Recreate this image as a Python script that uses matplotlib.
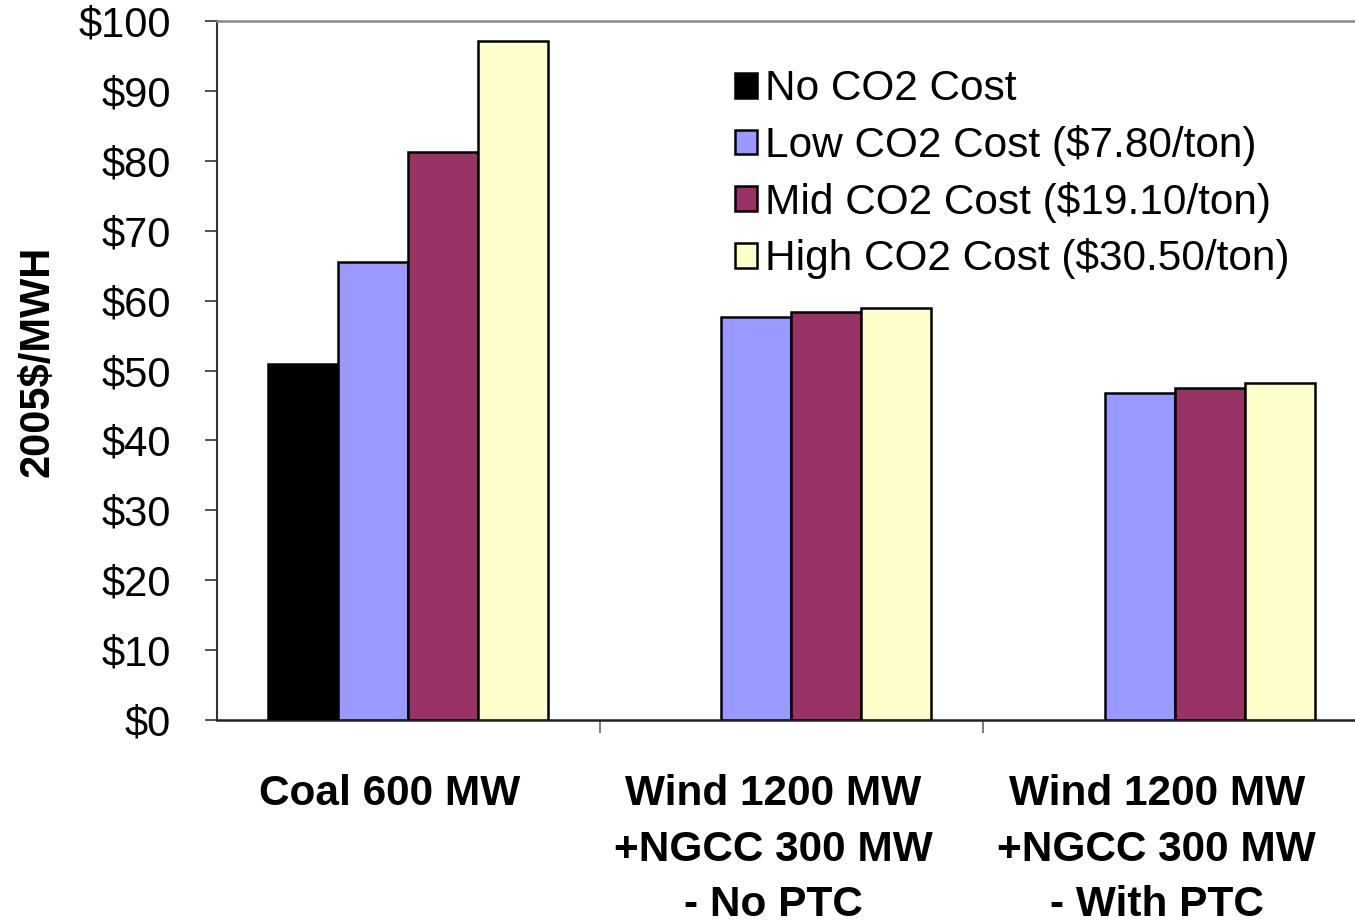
import numpy as np
import matplotlib
matplotlib.use('Agg')
import matplotlib.pyplot as plt

plt.rcParams['font.family'] = ['Liberation Sans', 'DejaVu Sans']

# data
categories = ['Coal 600 MW',
              'Wind 1200 MW\n+NGCC 300 MW\n- No PTC',
              'Wind 1200 MW\n+NGCC 300 MW\n- With PTC']
series = ['No CO2 Cost', 'Low CO2 Cost ($7.80/ton)',
          'Mid CO2 Cost ($19.10/ton)', 'High CO2 Cost ($30.50/ton)']
no_co2 = [51.0, np.nan, np.nan]
low_co2 = [65.5, 57.6, 46.8]
mid_co2 = [81.2, 58.3, 47.5]
high_co2 = [97.2, 58.9, 48.2]
colors = ['#000000', '#9999FF', '#993366', '#FFFFCC']
yticks = list(range(0, 101, 10))

fig = plt.figure(figsize=(13.55, 9.24), dpi=100)
ax = fig.add_axes([217 / 1355, 1 - 720 / 924, 1 - 217 / 1355, (720 - 21) / 924])

x = np.arange(len(categories))
w = 0.1825
for i, (vals, lab) in enumerate(zip([no_co2, low_co2, mid_co2, high_co2], series)):
    ax.bar(x + (i - 1.5) * w, vals, w, color=colors[i], edgecolor='black',
           linewidth=1.8, label=lab, zorder=3)

ax.set_xlim(-0.498, 2.47)
ax.set_ylim(0, 100)
ax.set_yticks(yticks)
ax.set_yticklabels(['$%d' % v for v in yticks], fontsize=30)
ax.tick_params(axis='y', length=9, width=1.2, color='#333333', pad=24)

# category labels sit a little left of the bar groups
ax.set_xticks(x - 0.047)
ax.set_xticklabels(categories, fontsize=30.5, fontweight='bold', linespacing=1.5, va='top')
ax.tick_params(axis='x', which='major', length=0, pad=39)
ax.set_xticks([0.5, 1.5], minor=True)
ax.tick_params(axis='x', which='minor', length=9, width=1.2, color='#666666')

ax.set_ylabel('2005$/MWH', fontsize=30, fontweight='bold', labelpad=15)
ax.yaxis.label.set_y(0.513)

ax.spines['left'].set_color('#333333')
ax.spines['left'].set_linewidth(1.5)
ax.spines['bottom'].set_color('#222222')
ax.spines['bottom'].set_linewidth(1.8)
ax.spines['top'].set_color('#888888')
ax.spines['top'].set_linewidth(1.8)
ax.spines['right'].set_visible(False)

leg = ax.legend(loc='upper left', bbox_to_anchor=(0.44, 0.955), frameon=False,
                fontsize=30.5, handlelength=0.52, handleheight=0.52,
                handletextpad=0.2, labelspacing=0.37, borderaxespad=0)

plt.savefig('out.png', dpi=100)
